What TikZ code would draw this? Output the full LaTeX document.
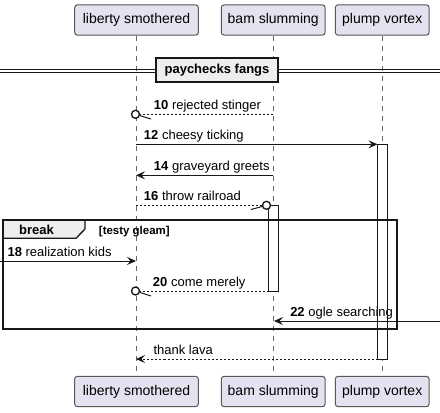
\documentclass[tikz,border=0pt]{standalone}
\usepackage{fontspec}
\setmainfont{Liberation Sans}
\usetikzlibrary{arrows.meta}
\definecolor{ink}{HTML}{181818}
\definecolor{partfill}{HTML}{E2E2F0}
\definecolor{grpfill}{HTML}{EEEEEE}
\begin{document}
\begin{tikzpicture}[x=0.75pt,y=-0.75pt,
  part/.style={draw=black!65, fill=partfill, line width=0.75pt, rounded corners=2pt,
    minimum height=22.7pt, inner sep=0pt, font=\fontsize{10.5pt}{12pt}\selectfont},
  lifeline/.style={draw=black!60, line width=0.75pt, dash pattern=on 3.75pt off 3.75pt},
  actbox/.style={draw=ink, fill=white, line width=0.75pt},
  msg/.style={draw=ink, line width=0.75pt, -{Stealth[length=6.75pt,width=6pt,inset=2.6pt]}},
  dmsg/.style={msg, dash pattern=on 1.5pt off 1.5pt},
  dline/.style={draw=ink, line width=0.75pt, dash pattern=on 1.5pt off 1.5pt},
  barb/.style={draw=ink, line width=0.75pt},
  circ/.style={circle, draw=ink, fill=white, line width=1pt, minimum size=6pt, inner sep=0pt},
  lbl/.style={anchor=base west, inner sep=0pt, font=\fontsize{9.75pt}{11pt}\selectfont},
  grp/.style={draw=ink, line width=1.5pt}
]
\useasboundingbox (0,0) rectangle (440,412);

% participants
\node[part, minimum width=92.7pt] (lt) at (136.5,20) {liberty smothered};
\node[part, minimum width=77.8pt] (bt) at (273.2,20) {bam slumming};
\node[part, minimum width=70.3pt] (pt) at (382.2,20) {plump vortex};
\node[part, minimum width=92.7pt] (lb) at (136.5,391.5) {liberty smothered};
\node[part, minimum width=77.8pt] (bb) at (273.2,391.5) {bam slumming};
\node[part, minimum width=70.3pt] (pb) at (382.2,391.5) {plump vortex};

% lifelines
\draw[lifeline] (lt) -- (lb);
\draw[lifeline] (bt) -- (bb);
\draw[lifeline] (pt) -- (pb);

% activations
\draw[actbox] (377.5,144.3) rectangle (387.5,359);
\draw[actbox] (268.5,205.3) rectangle (278.5,291);

% divider
\draw[ink, line width=0.75pt] (0,69.3) -- (440,69.3);
\draw[ink, line width=0.75pt] (0,72.7) -- (440,72.7);
\node[draw=ink, fill=grpfill, line width=1.5pt, minimum width=92pt, minimum height=18pt, inner sep=0pt,
  font=\bfseries\fontsize{9.75pt}{11pt}\selectfont] (div) at (217,70) {paychecks fangs};

% break frame
\draw[grp] (3.3,220) rectangle (396.7,329.3);
\draw[draw=ink, fill=grpfill, line width=1pt] (3.3,220) -- (85,220) -- (85,229) -- (76,238.3) -- (3.3,238.3) -- cycle;
\draw[grp] (3.3,220) rectangle (396.7,329.3);
\node[anchor=base, inner sep=0pt, font=\bfseries\fontsize{9.75pt}{11pt}\selectfont] (brk) at (36.5,234.5) {break};
\node[anchor=base west, inner sep=0pt, font=\bfseries\fontsize{8.6pt}{10pt}\selectfont] (grd) at (98.7,234.2) {[testy gleam]};

% message coordinates
\coordinate (b10) at (273.3,114.3);
\coordinate (t10) at (151,119);
\coordinate (l12) at (136,144.3);
\coordinate (p12) at (377.5,144.3);
\coordinate (b14) at (273.3,175.3);
\coordinate (l14) at (136,175.3);
\coordinate (l16) at (136,205.3);
\coordinate (t16) at (251,209.5);
\coordinate (s18) at (0,261);
\coordinate (l18) at (136,261);
\coordinate (b20) at (268.5,291);
\coordinate (t20) at (151,296);
\coordinate (s22) at (440,321);
\coordinate (b22) at (274,321);
\coordinate (p24) at (377.5,359);
\coordinate (l24) at (136,359);

% messages
\node[circ] (o10) at (135.5,114.3) {};
\draw[dline] (b10) -- (o10);
\draw[barb] (o10) -- (t10);

\draw[msg] (l12) -- (p12);
\draw[msg] (b14) -- (l14);

\node[circ] (o16) at (266.5,205.3) {};
\draw[dline] (l16) -- (o16);
\draw[barb] (o16) -- (t16);

\draw[msg] (s18) -- (l18);

\node[circ] (o20) at (135.5,291) {};
\draw[dline] (b20) -- (o20);
\draw[barb] (o20) -- (t20);

\draw[msg] (s22) -- (b22);
\draw[dmsg] (p24) -- (l24);

% labels
\node[lbl] (m10) at (153.7,109.3) {\textbf{10} rejected stinger};
\node[lbl] (m12) at (143.7,139.3) {\textbf{12} cheesy ticking};
\node[lbl] (m14) at (153.7,170.3) {\textbf{14} graveyard greets};
\node[lbl] (m16) at (143.7,200.3) {\textbf{16} throw railroad};
\node[lbl] (m18) at (7.3,256) {\textbf{18} realization kids};
\node[lbl] (m20) at (152.7,286) {\textbf{20} come merely};
\node[lbl] (m22) at (290,316) {\textbf{22} ogle searching};
\node[lbl] (m24) at (153.3,354) {thank lava};

% activation borders on top
\draw[ink, line width=0.75pt] (377.5,144.3) rectangle (387.5,359);
\end{tikzpicture}
\end{document}
